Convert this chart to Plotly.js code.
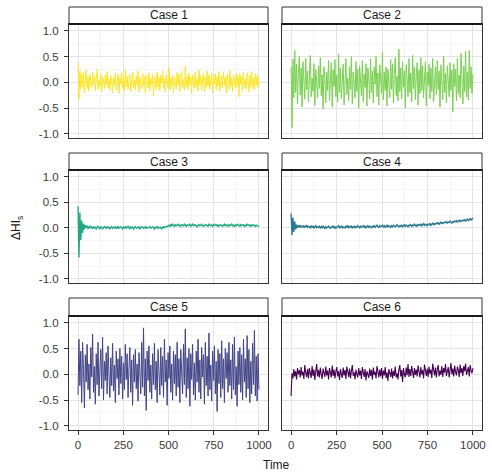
<!DOCTYPE html>
<html>
<head>
<meta charset="utf-8">
<script src="https://cdn.plot.ly/plotly-3.0.1.min.js"></script>
<style>html,body{margin:0;padding:0;background:#fff}#chart{width:492px;height:476px}</style>
</head>
<body>
<div id="chart"></div>
<script>
const caseNames = ["Case 1", "Case 2", "Case 3", "Case 4", "Case 5", "Case 6"];
const caseColors = ["#FDE725", "#7AD151", "#22A884", "#2A788E", "#414487", "#440154"];
const caseLineWidths = [1.0, 1.0, 1.4, 1.4, 1.0, 1.1];
const xTickVals = [0, 250, 500, 750, 1000];
const xTickText = ["0", "250", "500", "750", "1000"];
const yTickVals = [-1, -0.5, 0, 0.5, 1];
const yTickText = ["-1.0", "-0.5", "0.0", "0.5", "1.0"];

const case1 = [
0.38,-0.33,0.22,-0.14,0.17,-0.09,0.19,-0.21,0.06,0.23,
-0.12,0.10,-0.18,0.15,0.02,-0.10,0.20,-0.06,0.12,-0.17,
0.08,0.25,-0.14,0.04,-0.08,0.17,-0.19,0.11,0.01,-0.13,
0.14,-0.05,0.21,-0.11,0.07,-0.16,0.13,0.03,-0.20,0.09,
-0.07,0.18,-0.15,0.05,0.16,-0.22,0.10,-0.03,0.19,-0.12,
0.06,-0.17,0.24,-0.09,0.12,-0.14,0.02,0.15,-0.18,0.08,
0.20,-0.10,0.04,-0.15,0.13,-0.06,0.22,-0.19,0.09,0.01,
-0.13,0.17,-0.08,0.11,-0.21,0.14,0.03,-0.11,0.18,-0.16,
0.07,-0.04,0.16,-0.26,0.12,0.05,-0.14,0.20,-0.09,0.10,
-0.17,0.13,-0.02,0.23,-0.12,0.08,-0.19,0.15,0.04,-0.10,
0.27,-0.15,0.09,-0.07,0.14,-0.20,0.11,0.02,-0.13,0.19,
-0.06,0.16,-0.18,0.07,0.21,-0.11,0.05,-0.16,0.31,-0.08,
0.12,-0.14,0.18,-0.04,0.10,-0.22,0.15,0.03,-0.12,0.20,
-0.09,0.08,-0.17,0.24,-0.05,0.13,-0.15,0.06,0.17,-0.19,
0.11,-0.10,0.22,-0.07,0.14,-0.13,0.04,0.18,-0.20,0.09,
-0.03,0.16,-0.14,0.12,-0.08,0.21,-0.17,0.07,0.13,-0.11,
0.19,-0.06,0.10,-0.21,0.15,0.02,-0.15,0.23,-0.09,0.08,
-0.18,0.14,0.05,-0.12,0.17,-0.07,0.11,-0.28,0.16,-0.04,
0.12,-0.16,0.20,-0.10,0.06,-0.13,0.18,0.03,-0.19,0.14,
-0.08,0.21,-0.12,0.09,-0.15,0.17,-0.05,0.13,-0.10,0.07];

const case2 = [
0.30,-0.88,0.45,-0.30,0.62,-0.20,0.35,-0.42,0.18,0.50,
-0.25,0.28,-0.48,0.40,0.05,-0.33,0.46,-0.15,0.22,-0.38,
0.12,0.52,-0.28,0.08,-0.18,0.36,-0.45,0.25,0.02,-0.30,
0.32,-0.12,0.48,-0.26,0.15,-0.52,0.30,0.06,-0.40,0.20,
-0.16,0.42,-0.35,0.10,0.38,-0.48,0.24,-0.08,0.44,-0.28,
0.14,-0.38,0.55,-0.20,0.28,-0.32,0.04,0.35,-0.44,0.18,
0.46,-0.24,0.08,-0.36,0.30,-0.14,0.50,-0.42,0.20,0.02,
-0.30,0.40,-0.18,0.26,-0.50,0.32,0.06,-0.26,0.42,-0.38,
0.16,-0.10,0.36,-0.46,0.28,0.10,-0.32,0.46,-0.20,0.22,
-0.40,0.30,-0.04,0.50,-0.28,0.18,-0.44,0.34,0.08,-0.22,
0.58,-0.34,0.20,-0.16,0.30,-0.46,0.26,0.04,-0.30,0.44,
-0.14,0.36,-0.40,0.16,0.48,-0.26,0.12,-0.36,0.64,-0.18,
0.28,-0.32,0.40,-0.10,0.22,-0.50,0.34,0.06,-0.28,0.46,
-0.20,0.18,-0.38,0.52,-0.12,0.30,-0.34,0.14,0.38,-0.44,
0.24,-0.22,0.48,-0.16,0.32,-0.30,0.08,0.40,-0.46,0.20,
-0.06,0.36,-0.32,0.28,-0.18,0.46,-0.38,0.16,0.30,-0.24,
0.42,-0.14,0.22,-0.48,0.34,0.04,-0.34,0.50,-0.20,0.18,
-0.40,0.32,0.10,-0.28,0.38,-0.16,0.24,-0.58,0.36,-0.08,
0.26,-0.36,0.46,-0.22,0.14,-0.30,0.56,0.06,-0.42,0.32,
-0.18,0.60,-0.28,0.20,-0.34,0.62,-0.12,0.30,-0.22,0.16];

const case3 = [
0.42,-0.58,0.30,-0.24,0.14,-0.10,0.08,-0.03,0.05,0.01,
0.03,-0.02,0.02,0.00,0.03,0.01,-0.02,0.02,0.00,0.01,
-0.02,0.01,0.03,0.00,-0.02,0.02,0.01,-0.02,0.00,0.02,
0.01,-0.01,0.03,0.00,0.01,-0.02,0.00,0.02,-0.01,0.01,
0.00,0.02,-0.02,0.01,0.03,-0.01,0.00,0.02,0.01,-0.02,
0.01,0.00,0.02,-0.01,0.01,0.03,0.00,-0.02,0.02,0.00,
0.01,-0.02,0.01,0.02,0.00,-0.01,0.01,0.02,-0.02,0.00,
0.02,0.01,-0.01,0.00,0.02,-0.02,0.01,0.00,0.01,0.02,
-0.01,0.00,0.02,0.01,-0.02,0.01,0.00,0.02,-0.01,0.01,
0.00,0.01,-0.02,0.01,0.02,0.00,0.01,0.03,0.02,0.04,
0.05,0.03,0.06,0.04,0.07,0.05,0.02,0.06,0.04,0.05,
0.07,0.04,0.05,0.03,0.06,0.05,0.04,0.07,0.05,0.03,
0.06,0.04,0.05,0.07,0.03,0.05,0.07,0.04,0.05,0.06,
0.04,0.02,0.05,0.06,0.04,0.05,0.07,0.04,0.03,0.05,
0.06,0.04,0.05,0.03,0.07,0.05,0.04,0.06,0.03,0.05,
0.07,0.05,0.04,0.06,0.02,0.05,0.04,0.06,0.05,0.03,
0.05,0.07,0.04,0.06,0.05,0.03,0.06,0.04,0.05,0.07,
0.04,0.05,0.03,0.06,0.04,0.05,0.07,0.05,0.03,0.06,
0.04,0.05,0.06,0.03,0.05,0.04,0.07,0.05,0.04,0.06,
0.03,0.05,0.04,0.06,0.05,0.03,0.05,0.04,0.03,0.04];

const case4 = [
0.28,-0.14,0.20,-0.08,0.12,-0.03,0.06,0.00,0.04,0.02,
0.05,0.01,0.03,0.04,0.00,0.03,0.02,0.05,0.01,0.03,
0.02,0.00,0.04,0.01,0.03,-0.01,0.02,0.04,0.00,0.02,
0.01,0.03,-0.01,0.02,0.00,0.03,0.01,-0.02,0.02,0.00,
0.01,0.03,0.00,-0.01,0.02,0.01,0.03,0.00,0.02,-0.01,
0.01,0.02,0.04,0.00,0.01,0.03,-0.01,0.02,0.01,0.00,
0.03,0.01,0.05,0.00,0.02,0.01,0.04,-0.01,0.02,0.03,
0.00,0.02,0.01,0.04,0.02,0.00,0.03,0.01,0.02,0.04,
0.01,0.03,0.00,0.02,0.04,0.01,0.03,0.02,0.00,0.03,
0.02,0.04,0.01,0.03,0.05,0.02,0.01,0.04,0.02,0.03,
0.05,0.02,0.04,0.01,0.03,0.05,0.02,0.04,0.03,0.01,
0.04,0.02,0.05,0.03,0.02,0.04,0.06,0.03,0.02,0.04,
0.03,0.05,0.02,0.04,0.06,0.03,0.05,0.04,0.02,0.05,
0.04,0.06,0.03,0.05,0.04,0.07,0.05,0.03,0.06,0.04,
0.06,0.05,0.07,0.04,0.06,0.08,0.05,0.07,0.06,0.04,
0.07,0.06,0.08,0.05,0.07,0.09,0.06,0.08,0.07,0.09,
0.08,0.10,0.07,0.09,0.11,0.08,0.10,0.09,0.11,0.10,
0.12,0.09,0.11,0.10,0.13,0.11,0.09,0.12,0.11,0.13,
0.12,0.14,0.11,0.13,0.15,0.12,0.14,0.13,0.15,0.14,
0.16,0.13,0.15,0.17,0.14,0.16,0.18,0.15,0.17,0.19];

const case5 = [
-0.40,0.68,-0.22,0.45,-0.55,0.62,0.10,-0.65,0.38,-0.15,
0.58,-0.30,0.20,-0.48,0.52,-0.05,0.78,-0.35,0.15,-0.58,
0.40,-0.20,0.62,-0.42,0.08,0.48,-0.28,0.72,-0.50,0.25,
-0.12,0.42,-0.38,0.55,0.02,-0.45,0.32,-0.22,0.60,-0.32,
0.18,-0.55,0.45,-0.08,0.30,-0.40,0.50,-0.18,0.35,-0.48,
0.22,-0.30,0.58,-0.10,0.40,-0.45,0.12,0.52,-0.35,0.28,
-0.60,0.38,-0.15,0.48,-0.28,0.20,-0.52,0.42,0.05,-0.38,
0.62,-0.25,0.90,-0.42,0.30,-0.70,0.45,-0.12,0.55,-0.35,
0.18,-0.48,0.40,-0.20,0.60,-0.30,0.25,-0.55,0.48,0.00,
-0.40,0.52,-0.22,0.35,-0.45,0.68,-0.15,0.28,-0.60,0.42,
-0.08,0.55,-0.35,0.20,-0.50,0.45,-0.18,0.38,-0.42,0.62,
-0.25,0.30,-0.55,0.48,0.05,-0.38,0.58,-0.20,0.88,-0.45,
0.32,-0.28,0.50,-0.62,0.40,-0.10,0.58,-0.40,0.22,-0.50,
0.45,-0.15,0.68,-0.35,0.28,-0.48,0.52,-0.05,0.38,-0.58,
0.62,-0.22,0.35,-0.42,0.80,-0.30,0.18,-0.52,0.45,-0.12,
0.55,-0.38,0.25,-0.72,0.48,-0.18,0.40,-0.45,0.65,-0.28,
0.30,-0.55,0.50,-0.08,0.42,-0.35,0.62,-0.22,0.28,-0.48,
0.58,-0.30,0.72,-0.40,0.15,-0.62,0.45,-0.20,0.52,-0.35,
0.38,-0.50,0.68,-0.15,0.30,-0.45,0.75,-0.28,0.48,-0.55,
0.25,-0.38,0.60,-0.20,0.85,-0.42,0.35,-0.52,0.40,-0.30];

const case6 = [
-0.42,0.02,-0.08,0.10,-0.04,0.06,-0.10,0.12,0.00,0.08,
-0.06,0.14,-0.02,0.05,-0.09,0.18,0.03,-0.05,0.10,-0.08,
0.12,0.01,-0.07,0.16,-0.03,0.09,-0.11,0.06,0.20,-0.04,
0.08,-0.06,0.13,0.00,-0.09,0.11,0.04,-0.05,0.15,-0.02,
0.07,-0.10,0.12,0.02,-0.06,0.17,-0.03,0.09,-0.08,0.05,
0.14,-0.04,0.06,-0.11,0.10,0.01,-0.07,0.13,-0.02,0.08,
-0.09,0.15,0.03,-0.05,0.11,-0.08,0.06,0.18,-0.03,0.04,
-0.10,0.09,0.00,-0.06,0.12,-0.02,0.07,-0.09,0.14,0.02,
-0.05,0.10,-0.12,0.06,0.01,-0.07,0.11,-0.03,0.08,-0.10,
0.13,-0.01,0.05,-0.08,0.16,0.00,-0.06,0.09,-0.04,0.12,
-0.09,0.07,-0.02,0.14,-0.07,0.04,-0.13,0.10,0.01,-0.05,
0.11,-0.08,0.06,-0.03,0.15,-0.06,0.02,-0.10,0.09,0.18,
-0.04,0.08,-0.15,0.12,0.00,-0.06,0.13,-0.02,0.20,-0.05,
0.10,-0.03,0.16,0.02,-0.07,0.12,-0.01,0.09,-0.04,0.17,
0.03,-0.06,0.14,0.00,0.08,-0.08,0.19,0.04,-0.03,0.11,
-0.05,0.15,0.01,0.09,-0.07,0.21,0.02,-0.02,0.13,-0.06,
0.10,0.18,-0.04,0.07,-0.01,0.16,-0.05,0.12,0.03,0.20,
-0.03,0.09,0.14,-0.06,0.08,0.22,0.00,0.11,-0.04,0.17,
0.05,-0.02,0.15,0.08,-0.05,0.19,0.02,0.12,-0.03,0.16,
0.06,0.21,-0.01,0.10,0.14,-0.04,0.18,0.07,0.02,0.12];

const caseValues = [case1, case2, case3, case4, case5, case6];

// layout geometry (pixels in a 492x476 figure)
const W = 492, H = 476;
const colPx = [[69, 268], [282, 482]];
const rowPlotPx = [[24, 138], [170, 283], [316, 430]];
const rowStripPx = [[7, 24], [153, 170], [298, 316]];
const px2x = p => p / W;
const px2y = p => 1 - p / H;

const FONT = "Liberation Sans, Arial, sans-serif";
const traces = [];
const layout = {
  width: W, height: H,
  margin: {l: 0, r: 0, t: 0, b: 0},
  paper_bgcolor: "#ffffff",
  plot_bgcolor: "#ffffff",
  showlegend: false,
  font: {family: FONT, size: 11, color: "#3A3A3A"},
  shapes: [],
  annotations: []
};

caseValues.forEach((vals, k) => {
  const row = Math.floor(k / 2), col = k % 2;
  const idx = k + 1;
  const xa = "xaxis" + (idx === 1 ? "" : idx);
  const ya = "yaxis" + (idx === 1 ? "" : idx);
  const xr = "x" + (idx === 1 ? "" : idx);
  const yr = "y" + (idx === 1 ? "" : idx);
  const time = vals.map((_, i) => i * 1000 / (vals.length - 1));
  traces.push({
    type: "scatter", mode: "lines",
    x: time, y: vals, xaxis: xr, yaxis: yr,
    line: {color: caseColors[k], width: caseLineWidths[k]},
    hoverinfo: "skip"
  });
  const bottom = row === 2, left = col === 0;
  layout[xa] = {
    domain: [px2x(colPx[col][0]), px2x(colPx[col][1])],
    anchor: yr,
    range: [-50, 1050],
    tickvals: xTickVals, ticktext: xTickText,
    showticklabels: bottom,
    ticks: bottom ? "outside" : "",
    ticklen: 4, tickwidth: 1, tickcolor: "#333333",
    tickfont: {family: FONT, size: 11.5, color: "#3A3A3A"},
    showgrid: true, gridcolor: "#E3E3E3", gridwidth: 1,
    minor: {dtick: 125, tick0: 0, showgrid: true, gridcolor: "#EFEFEF", gridwidth: 0.6},
    zeroline: false,
    showline: true, mirror: true, linecolor: "#333333", linewidth: 1,
    fixedrange: true
  };
  layout[ya] = {
    domain: [px2y(rowPlotPx[row][1]), px2y(rowPlotPx[row][0])],
    anchor: xr,
    range: [-1.08, 1.13],
    tickvals: yTickVals, ticktext: yTickText,
    showticklabels: left,
    ticks: left ? "outside" : "",
    ticklen: 4, tickwidth: 1, tickcolor: "#333333",
    ticklabelstandoff: 3,
    tickfont: {family: FONT, size: 11.5, color: "#3A3A3A"},
    showgrid: true, gridcolor: "#E3E3E3", gridwidth: 1,
    minor: {dtick: 0.25, tick0: 0, showgrid: true, gridcolor: "#EFEFEF", gridwidth: 0.6},
    zeroline: false,
    showline: true, mirror: true, linecolor: "#333333", linewidth: 1,
    fixedrange: true
  };
  // strip
  const sx0 = px2x(colPx[col][0]), sx1 = px2x(colPx[col][1]);
  const sy0 = px2y(rowStripPx[row][1]), sy1 = px2y(rowStripPx[row][0]);
  layout.shapes.push({
    type: "rect", xref: "paper", yref: "paper",
    x0: sx0, x1: sx1, y0: sy0, y1: sy1,
    fillcolor: "#ffffff", line: {color: "#333333", width: 1}
  });
  layout.shapes.push({
    type: "line", xref: "paper", yref: "paper",
    x0: sx0, x1: sx1, y0: sy0, y1: sy0,
    line: {color: "#1A1A1A", width: 2}
  });
  layout.annotations.push({
    xref: "paper", yref: "paper",
    x: (sx0 + sx1) / 2, y: (sy0 + sy1) / 2,
    text: caseNames[k], showarrow: false,
    xanchor: "center", yanchor: "middle",
    font: {family: FONT, size: 12, color: "#1A1A1A"}
  });
});

layout.annotations.push({
  xref: "paper", yref: "paper",
  x: px2x(276), y: px2y(465),
  text: "Time", showarrow: false,
  xanchor: "center", yanchor: "middle",
  font: {family: FONT, size: 12, color: "#1A1A1A"}
});
layout.annotations.push({
  xref: "paper", yref: "paper",
  x: px2x(17), y: px2y(228),
  text: "ΔHI<sub>s</sub>", showarrow: false, textangle: -90,
  xanchor: "center", yanchor: "middle",
  font: {family: FONT, size: 12, color: "#1A1A1A"}
});

Plotly.newPlot("chart", traces, layout, {displayModeBar: false, staticPlot: true});
</script>
</body>
</html>
